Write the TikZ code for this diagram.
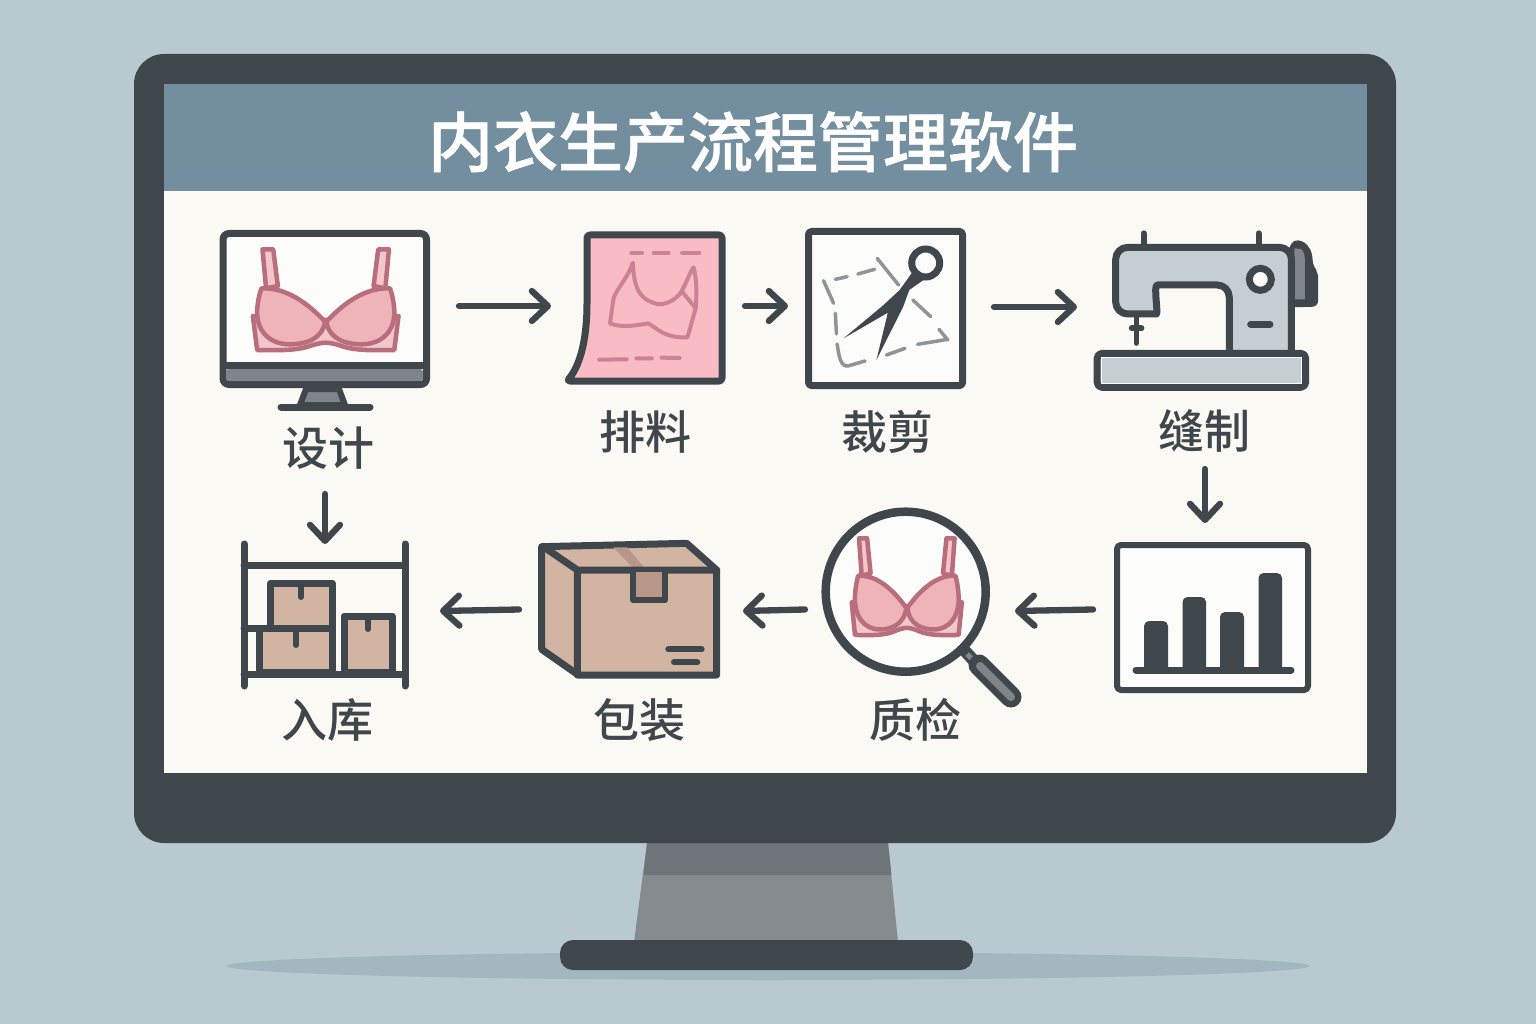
\documentclass[tikz,border=0pt]{standalone}
\usepackage{fontspec}
\usetikzlibrary{arrows.meta}
\newfontfamily\cjk{Noto Sans CJK SC Medium}
\newfontfamily\cjktitle[FakeBold=0.9]{Noto Sans CJK SC Medium}
\definecolor{bgc}{HTML}{B8C9D0}
\definecolor{shadowc}{HTML}{A3B7C0}
\definecolor{darkc}{HTML}{3F464C}
\definecolor{barc}{HTML}{738F9F}
\definecolor{panelc}{HTML}{FAF9F4}
\definecolor{whitec}{HTML}{FCFCFA}
\definecolor{neckA}{HTML}{6E7479}
\definecolor{neckB}{HTML}{858A8F}
\definecolor{greyc}{HTML}{7F858B}
\definecolor{steelc}{HTML}{C5CED3}
\definecolor{cupc}{HTML}{EEB4BA}
\definecolor{bandc}{HTML}{F3C6CA}
\definecolor{brac}{HTML}{B96E7E}
\definecolor{paperc}{HTML}{F9BCC5}
\definecolor{patc}{HTML}{CC8292}
\definecolor{dashc}{HTML}{8F9496}
\definecolor{kraftc}{HTML}{D2B4A2}
\definecolor{tapec}{HTML}{B8968A}
\tikzset{
  ink/.style={draw=darkc,line width=7pt,line join=round,line cap=round},
  thin ink/.style={draw=darkc,line width=6pt,line join=round,line cap=round},
  flow/.style={draw=darkc,line width=6.3pt,line cap=round,-{Straight Barb[length=16pt,width=30pt,round]}},
  lab/.style={text=darkc,font=\cjk\fontsize{46}{50}\selectfont,inner sep=0pt},
  brastroke/.style={draw=brac,line width=4.5pt,line join=round},
  patline/.style={draw=patc,line width=4pt,line cap=round,line join=round},
  cutline/.style={draw=dashc,line width=3.5pt,line cap=round,line join=round},
}
\newcommand{\bracup}{%
  \path[brastroke,fill=bandc] (-177,118) -- (-147,118) -- (-134,228) -- (-167,235) -- cycle;
  \path[brastroke,fill=cupc] (-180,235) .. controls (-110,232) and (-50,280) .. (-2,335)
     .. controls (-10,390) and (-60,403) .. (-100,403)
     .. controls (-160,403) and (-195,360) .. (-192,300)
     .. controls (-190,270) and (-185,250) .. (-180,235) -- cycle;
}
\newcommand{\brashape}{%
  \path[brastroke,fill=bandc] (-204,318) -- (-192,420)
     .. controls (-120,422) and (-80,420) .. (-50,410)
     .. controls (-30,402) and (-10,398) .. (0,398)
     .. controls (10,398) and (30,402) .. (50,410)
     .. controls (80,420) and (120,422) .. (192,420)
     -- (204,318) -- (0,330) -- cycle;
  \bracup
  \begin{scope}[xscale=-1]\bracup\end{scope}
}
\begin{document}
\begin{tikzpicture}[x=1pt,y=-1pt]
\useasboundingbox (0,0) rectangle (1536,1024);
\fill[bgc] (0,0) rectangle (1536,1024);
% shadow and stand
\fill[shadowc] (768,966) ellipse [x radius=541,y radius=14];
\fill[neckB] (647,843) -- (888,843) -- (898,942) -- (634,942) -- cycle;
\fill[neckA] (647,843) -- (888,843) -- (891.5,875) -- (643.5,875) -- cycle;
\fill[darkc,rounded corners=13pt] (560,940) rectangle (973,970);
% monitor
\fill[darkc,rounded corners=30pt] (134,54) rectangle (1396,843);
\fill[panelc] (164,84) rectangle (1367,773);
\fill[barc] (164,84) rectangle (1367,191);
\node[name=title,text=white,inner sep=0pt,font=\cjktitle\fontsize{65}{70}\selectfont] at (753,142) {内衣生产流程管理软件};

% ---- design icon
\path[ink,fill=whitec,rounded corners=6pt] (223,233.5) rectangle (426.5,384.5);
\fill[greyc,rounded corners=3pt] (226,369) rectangle (423,381);
\draw[ink] (224,365) -- (426,365);
\path[draw=darkc,line width=6pt,fill=greyc,line join=round] (306,389) -- (339,389) -- (345,405) -- (300,405) -- cycle;
\draw[ink] (281,407) -- (370,407);
\begin{scope}[shift={(200+352/2.8,210)},xscale=1/2.8,yscale=1/3]\brashape\end{scope}

% ---- layout icon
\path[ink,fill=paperc,rounded corners=3pt] (587,235) -- (722,235) -- (722,381) -- (567,381)
   .. controls (578,368) and (587,345) .. (587,300) -- cycle;
\begin{scope}[shift={(200,210)},xscale=1/2.8,yscale=1/3]
\path[patline] (1212,158) .. controls (1200,200) and (1165,240) .. (1158,265) -- (1148,340)
   .. controls (1180,355) and (1230,345) .. (1255,340) .. controls (1280,355) and (1300,385) .. (1365,382)
   -- (1388,295) .. controls (1392,250) and (1390,200) .. (1382,172)
   .. controls (1370,190) and (1360,225) .. (1345,250) .. controls (1325,275) and (1300,285) .. (1280,282)
   .. controls (1240,270) and (1215,250) .. (1212,158) -- cycle;
\path[patline] (1350,245) -- (1388,295);
\path[patline] (1208,128) -- (1238,128) (1270,128) -- (1312,128) (1350,128) -- (1398,128);
\path[patline] (1118,449) -- (1195,448) (1222,445) -- (1265,445) (1292,443) -- (1343,444);
\end{scope}

% ---- cutting icon
\path[ink,fill=whitec,rounded corners=3pt] (808.5,231.5) rectangle (962.5,385.5);
\begin{scope}[shift={(780,210)},xscale=1/2.8,yscale=1/3]
\path[cutline] (272,145) -- (332,225) (372,270) -- (422,320) (122,212) -- (150,280) (155,310) -- (158,372)
   (160,402) .. controls (165,440) and (170,470) .. (190,468) -- (238,453)
   (298,435) -- (350,415) (385,403) -- (470,388) (445,358) -- (470,390)
   (155,208) -- (188,200) (218,192) -- (265,178);
\fill[darkc] (375,180) -- (335,240) -- (290,285) -- (178,385) -- (302,308) -- (270,450) -- (345,290) -- (362,240) -- (415,200) -- cycle;
\end{scope}
\path[draw=darkc,line width=7pt,fill=whitec] (925.7,263) circle [radius=14];

% ---- sewing icon
\begin{scope}[shift={(780,210)},xscale=1/2.8,yscale=1/3]
\path[fill=darkc,rounded corners=6pt] (1425,105) .. controls (1450,85) and (1490,95) .. (1492,170) -- (1507,185) -- (1507,290) -- (1425,292) -- cycle;
\fill[greyc] (1440,115) -- (1460,118) .. controls (1468,125) and (1470,140) .. (1470,160) -- (1470,268) -- (1440,268) -- cycle;
\path[thin ink] (1018,70) -- (1018,105) (1340,70) -- (1340,105);
\path[ink,fill=steelc,rounded corners=12pt] (940,112) -- (1432,112) -- (1432,470) -- (1258,470) -- (1258,225) -- (1090,225)
   .. controls (1045,225) and (1060,312) .. (1020,312) -- (940,312) -- cycle;
\path[draw=darkc,line width=5pt,line cap=round] (997,320) -- (997,400);
\path[thin ink] (985,355) -- (1012,355);
\path[ink,fill=whitec] (1345,208) ellipse [x radius=30.8,y radius=33];
\path[ink] (1318,343) -- (1372,343);
\path[ink,fill=steelc,rounded corners=5pt] (888,430) rectangle (1472,532);
\draw[whitec,line width=1pt] (899,442) rectangle (1461,520);
\end{scope}

% ---- chart icon
\path[thin ink,fill=whitec,rounded corners=4pt] (1117,545) rectangle (1308,690);
\fill[darkc,rounded corners=5pt] (1144,621) rectangle (1168,672);
\fill[darkc,rounded corners=5pt] (1182.5,597) rectangle (1206,672);
\fill[darkc,rounded corners=5pt] (1220,612) rectangle (1244,672);
\fill[darkc,rounded corners=5pt] (1258.5,573) rectangle (1282,672);
\draw[ink] (1136,670) -- (1291,670);

% ---- inspection icon
\draw[darkc,line width=12pt] (964,650) -- (977,664);
\draw[greyc,line width=5pt] (967,654) -- (973,660);
\draw[darkc,line width=21pt,line cap=round] (979,665) -- (1011,697);
\draw[greyc,line width=8pt,line cap=round] (980,666) -- (1011,697);
\path[draw=darkc,line width=8.5pt,fill=whitec] (905.7,591.7) circle [radius=80];
\begin{scope}[shift={(780+355/2.8,500.5)},xscale=0.27,yscale=0.32]\brashape\end{scope}

% ---- packing icon
\begin{scope}[shift={(220,490)},xscale=1/3,yscale=1/3]
\path[ink,fill=kraftc] (965,170) -- (1400,160) -- (1490,240) -- (1490,555) -- (1075,555) -- (965,478) -- cycle;
\fill[tapec] (1180,172) -- (1222,172) -- (1272,232) -- (1238,232) -- cycle;
\path[ink] (970,170) -- (1072,240) -- (1490,240) (1072,240) -- (1072,555);
\path[thin ink,fill=tapec] (1240,245) -- (1240,330) -- (1335,330) -- (1335,245);
\path[thin ink] (1345,478) -- (1445,478) (1362,517) -- (1432,517);
\end{scope}

% ---- storage icon
\draw[ink] (244,544) -- (244,686);
\draw[ink] (405,544) -- (405,686);
\draw[ink] (244,565) -- (405,565);
\draw[ink] (244,674) -- (405,674);
\path[ink,fill=kraftc] (270.7,628) -- (270.7,583) -- (332,583) -- (332,628) -- cycle;
\path[ink,fill=kraftc] (259,628) -- (259,672) -- (332,672) -- (332,628) -- cycle;
\path[ink,fill=kraftc] (344,672) -- (344,616) -- (392,616) -- (392,672) -- cycle;
\draw[ink] (244,628) -- (259,628);
\draw[thin ink] (301,584) -- (301,597);
\draw[thin ink] (296,630) -- (296,645);
\draw[thin ink] (368,617) -- (368,629);

% ---- labels
\node[lab,name=l1] at (328,448) {设计};
\node[lab,name=l2] at (645,432) {排料};
\node[lab,name=l3] at (887,432) {裁剪};
\node[lab,name=l4] at (1204,431) {缝制};
\node[lab,name=l5] at (915.5,720) {质检};
\node[lab,name=l6] at (639,720) {包装};
\node[lab,name=l7] at (327,720) {入库};

% ---- connectors
\coordinate (a1s) at (459,306); \coordinate (a1e) at (551,306);
\coordinate (a2s) at (745,306); \coordinate (a2e) at (788,306);
\coordinate (a3s) at (994,307); \coordinate (a3e) at (1077,307);
\coordinate (a4s) at (1205,469); \coordinate (a4e) at (1205,523);
\coordinate (a5s) at (1093,609.5); \coordinate (a5e) at (1015,611);
\coordinate (a6s) at (805,609.5); \coordinate (a6e) at (743,611);
\coordinate (a7s) at (519,609.5); \coordinate (a7e) at (440,611);
\coordinate (a8s) at (325,494); \coordinate (a8e) at (325,544);
\draw[flow] (a1s) -- (a1e);
\draw[flow] (a2s) -- (a2e);
\draw[flow] (a3s) -- (a3e);
\draw[flow] (a4s) -- (a4e);
\draw[flow] (a5s) -- (a5e);
\draw[flow] (a6s) -- (a6e);
\draw[flow] (a7s) -- (a7e);
\draw[flow] (a8s) -- (a8e);
\end{tikzpicture}
\end{document}
